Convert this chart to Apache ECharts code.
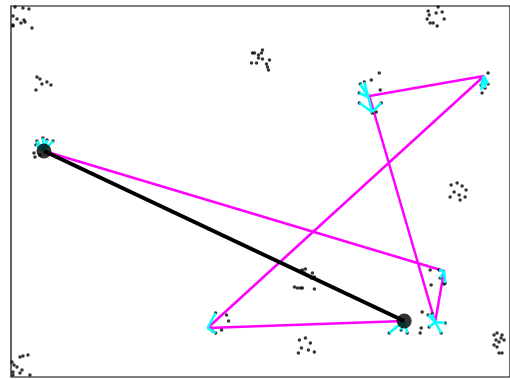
<!DOCTYPE html>
<html>
<head>
<meta charset="utf-8">
<script src="https://cdn.jsdelivr.net/npm/echarts@6/dist/echarts.min.js"></script>
<style>
  html, body { margin: 0; padding: 0; background: #fff; }
  #chart { width: 510px; height: 379px; }
</style>
</head>
<body>
<div id="chart"></div>
<script>
// Sample points (x, y) — y grows downward on this plane.
const points = [
  [15,7],[23,8],[29,9],[13,16],[17,19],[21,23],[24,20],[25,22],[13,25],[13,26],[32,28],
  [37,77],[36,90],[42,84],[47,82],[51,85],[40,79],
  [253,53],[255,53],[259,55],[263,50],[262,53],[259,58],[263,59],[252,63],[257,63],[270,60],[267,64],[268,67],[269,70],
  [439,7],[443,12],[429,11],[437,13],[430,15],[428,19],[445,19],[431,23],[434,23],[438,26],
  [37,141],[43,138],[47,140],[53,141],[36,145],[34,153],[35,157],[40,155],
  [380,73],[372,80],[381,90],[361,84],[365,82],[360,93],[360,103],[377,112],[373,113],[382,103],
  [489,73],[483,93],[486,88],[482,85],[489,84],
  [452,185],[458,183],[463,186],[467,190],[455,192],[460,195],[451,197],[466,197],[461,200],
  [301,271],[303,270],[306,269],[305,273],[313,273],[315,277],[312,278],[295,287],[298,288],[301,288],[303,288],[315,289],
  [216,313],[216,333],[213,331],[227,315],[229,321],[222,330],
  [390,333],[408,333],[402,330],[430,327],[442,333],[429,315],[433,314],[423,312],[446,323],[422,328],[421,333],
  [431,270],[440,270],[445,284],[441,278],[432,285],[446,283],
  [300,340],[306,338],[311,343],[302,348],[309,350],[315,352],[299,353],
  [20,357],[23,356],[28,355],[12,362],[14,365],[17,367],[22,370],[20,373],[13,372],[13,375],[30,375],
  [495,335],[498,333],[503,335],[502,338],[497,340],[500,342],[505,340],[495,345],[498,347],[500,353],[503,353]
];

// Spokes joining each visited centre to members of its group: [x0, y0, x1, y1].
const spokes = [
  [44,151,37,141],[44,151,43,138],[44,151,47,140],[44,151,53,141],[44,151,36,145],
  [369,97,361,84],[369,97,365,82],[369,97,360,93],[369,97,373,112],[373,112,360,103],[373,112,382,103],
  [485,76,482,90],[485,76,486,88],[485,76,489,84],[485,76,482,85],
  [208,328,216,313],[208,328,216,333],[208,328,213,331],
  [405,321,390,333],[405,321,408,333],[405,321,402,330],
  [436,322,430,327],[436,322,442,333],[436,322,429,315],[436,322,433,314],[436,322,446,323],
  [445,271,440,270],[445,271,446,283],[445,271,441,278]
];

// Tour through the visited centres.
const route = [[44,151],[445,271],[436,322],[370,96],[485,76],[208,328],[405,321]];

// Closing edge between the two end centres.
const closing = [[44,151],[405,321]];
const ends = [[44,151],[405,321]];

const spokeSeries = spokes.map(s => ({
  type: 'line',
  data: [[s[0], s[1]], [s[2], s[3]]],
  symbol: 'none',
  silent: true,
  z: 3,
  lineStyle: { color: '#00ffff', width: 2.5 }
}));

const chart = echarts.init(document.getElementById('chart'), null, { renderer: 'canvas' });
chart.setOption({
  animation: false,
  backgroundColor: '#ffffff',
  grid: {
    left: 11, top: 6, width: 500, height: 371,
    show: true, borderColor: '#000', borderWidth: 1.2, backgroundColor: 'transparent'
  },
  xAxis: {
    type: 'value', min: 11, max: 511,
    axisLine: { show: false }, axisTick: { show: false },
    axisLabel: { show: false }, splitLine: { show: false }
  },
  yAxis: {
    type: 'value', min: 6, max: 377, inverse: true,
    axisLine: { show: false }, axisTick: { show: false },
    axisLabel: { show: false }, splitLine: { show: false }
  },
  series: [
    {
      type: 'scatter', data: points, symbol: 'circle', symbolSize: 3.5,
      itemStyle: { color: '#000' }, z: 2, silent: true
    },
    {
      type: 'line', data: route, symbol: 'none', z: 2, silent: true,
      lineStyle: { color: '#ff00ff', width: 2.5 }
    },
    ...spokeSeries,
    {
      type: 'line', data: closing, symbol: 'none', z: 4, silent: true,
      lineStyle: { color: '#000', width: 4 }
    },
    {
      type: 'scatter', data: ends, symbol: 'circle', symbolSize: 15,
      itemStyle: { color: '#000' }, z: 5, silent: true
    }
  ]
});
</script>
</body>
</html>
